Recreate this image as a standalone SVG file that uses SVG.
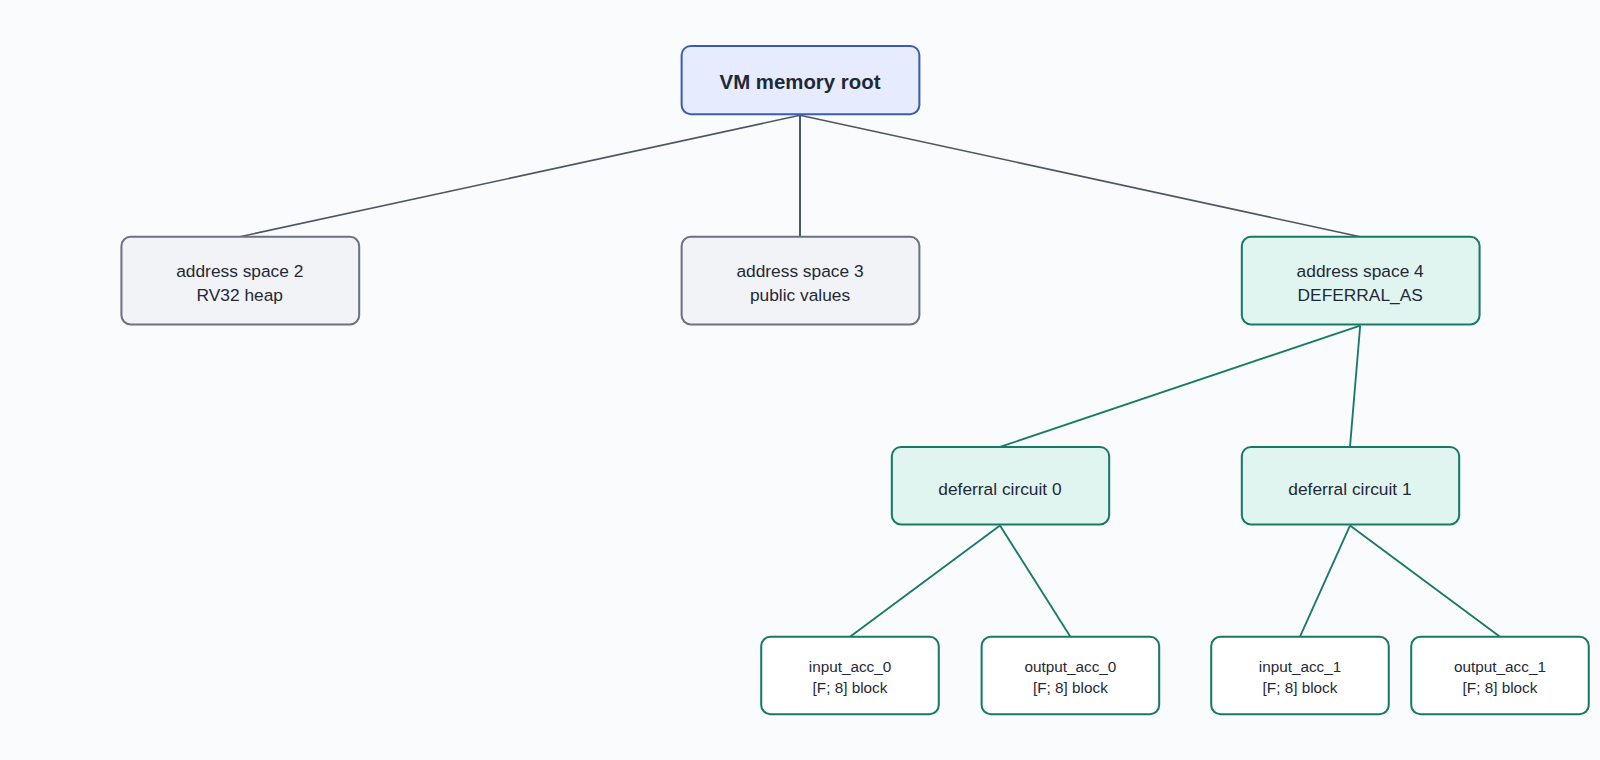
<svg xmlns="http://www.w3.org/2000/svg" width="1600" height="760" viewBox="0 0 1600 760">
<style>
text{font-family:"Liberation Sans",Arial,sans-serif;fill:#1f2937;text-anchor:middle}
.g rect{fill:#f2f3f6;stroke:#6b7280;stroke-width:2}
.t rect{fill:#e1f5f0;stroke:#187a66;stroke-width:2}
.l rect{fill:#ffffff;stroke:#187a66;stroke-width:2}
.m{font-size:17px}
.s{font-size:15px}
</style>
<rect width="1600" height="760" fill="#f9fbfd"/>
<g transform="scale(1.0204)">
<g id="connectors" fill="none">
<g stroke="#4b5563" stroke-width="1.5">
<line x1="784" y1="113" x2="235" y2="232"/>
<line x1="784" y1="113" x2="784" y2="232" stroke-width="2"/>
<line x1="784" y1="113" x2="1333" y2="232"/>
</g>
<g stroke="#187a66" stroke-width="1.8">
<line x1="1333" y1="319" x2="980" y2="438"/>
<line x1="1333" y1="319" x2="1323" y2="438"/>
<line x1="980" y1="515" x2="833" y2="624"/>
<line x1="980" y1="515" x2="1049" y2="624"/>
<line x1="1323" y1="515" x2="1274" y2="624"/>
<line x1="1323" y1="515" x2="1470" y2="624"/>
</g>
</g>
<g id="root"><rect x="668" y="45" width="233" height="67" rx="9" fill="#e6ecfd" stroke="#3b5db0" stroke-width="2"/><text x="784" y="87" font-size="20" font-weight="bold">VM memory root</text></g>
<g id="as2" class="g"><rect x="119" y="232" width="233" height="86" rx="9"/><text class="m" x="235" y="271">address space 2</text><text class="m" x="235" y="295">RV32 heap</text></g>
<g id="as3" class="g"><rect x="668" y="232" width="233" height="86" rx="9"/><text class="m" x="784" y="271">address space 3</text><text class="m" x="784" y="295">public values</text></g>
<g id="as4" class="t"><rect x="1217" y="232" width="233" height="86" rx="9"/><text class="m" x="1333" y="271">address space 4</text><text class="m" x="1333" y="295">DEFERRAL_AS</text></g>
<g id="dc0" class="t"><rect x="874" y="438" width="213" height="76" rx="9"/><text class="m" x="980" y="485">deferral circuit 0</text></g>
<g id="dc1" class="t"><rect x="1217" y="438" width="213" height="76" rx="9"/><text class="m" x="1323" y="485">deferral circuit 1</text></g>
<g id="in0" class="l"><rect x="746" y="624" width="174" height="76" rx="9"/><text class="s" x="833" y="659">input_acc_0</text><text class="s" x="833" y="679">[F; 8] block</text></g>
<g id="out0" class="l"><rect x="962" y="624" width="174" height="76" rx="9"/><text class="s" x="1049" y="659">output_acc_0</text><text class="s" x="1049" y="679">[F; 8] block</text></g>
<g id="in1" class="l"><rect x="1187" y="624" width="174" height="76" rx="9"/><text class="s" x="1274" y="659">input_acc_1</text><text class="s" x="1274" y="679">[F; 8] block</text></g>
<g id="out1" class="l"><rect x="1383" y="624" width="174" height="76" rx="9"/><text class="s" x="1470" y="679" dy="-20">output_acc_1</text><text class="s" x="1470" y="679">[F; 8] block</text></g>
</g>
</svg>
